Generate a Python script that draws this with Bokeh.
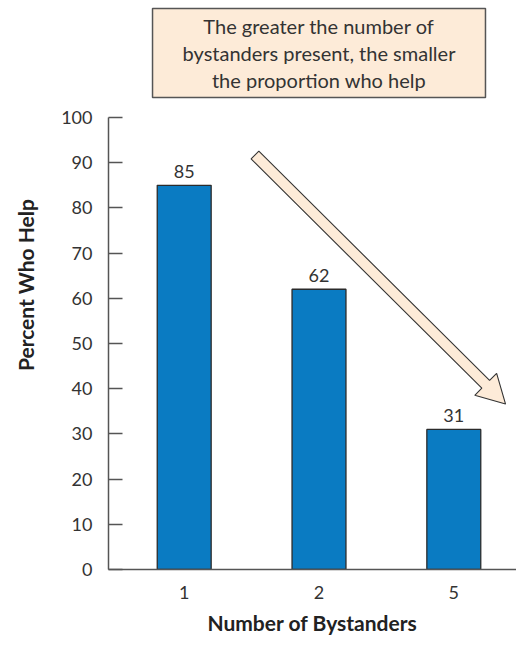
import math
from bokeh.plotting import figure
from bokeh.models import ColumnDataSource, FixedTicker, Range1d
from bokeh.core.properties import value
from bokeh.embed import file_html
from bokeh.resources import INLINE

# ---- data ----
categories = ["1", "2", "5"]
percent_help = [85, 62, 31]
y_ticks = [0, 10, 20, 30, 40, 50, 60, 70, 80, 90, 100]
note_lines = ["The greater the number of",
              "bystanders present, the smaller",
              "the proportion who help"]
x_title = "Number of Bystanders"
y_title = "Percent Who Help"

# ---- layout ----
W, H = 516, 639
BL, BR, BT, BB = 108, 0, 0, 70
FW, FH = W - BL - BR, H - BT - BB
X0 = -0.5616
sx = 134.8                      # px per category step
X1 = X0 + FW / sx
Y0 = 0
sy = 4.52                       # px per percent
Y1 = Y0 + FH / sy

FONT = "Lato"
TXT = "#333333"

p = figure(width=W, height=H, output_backend="svg", toolbar_location=None,
           x_range=Range1d(X0, X1), y_range=Range1d(Y0, Y1),
           min_border_left=BL, min_border_right=BR, min_border_top=BT,
           min_border_bottom=BB)
p.outline_line_color = None
p.xgrid.visible = False
p.ygrid.visible = False
p.background_fill_color = "white"
p.border_fill_color = "white"

xpos = list(range(len(categories)))
src = ColumnDataSource(dict(x=xpos, top=percent_help,
                            lab=[str(v) for v in percent_help]))

# note box (annotation, behind its text)
box_l, box_r, box_b, box_t = -0.235, 2.235, 104.4, 124.1
p.quad(left=[box_l], right=[box_r], bottom=[box_b], top=[box_t],
       fill_color="#fdebd8", line_color="#555555", line_width=1.5)
line_y = [120.3, 114.3, 108.3]
p.text(x=[(box_l + box_r) / 2] * len(note_lines), y=line_y, text=note_lines,
       text_align="center", text_baseline="middle", text_font=value(FONT),
       text_font_size="20px", text_color=TXT)

p.vbar(x="x", top="top", bottom=0, width=0.4, source=src,
       fill_color="#0a7bc2", line_color="#2b2b2b", line_width=1.3)
p.text(x="x", y="top", text="lab", source=src, text_align="center",
       text_baseline="bottom", y_offset=-7, text_font=value(FONT),
       text_font_size="18px", text_color=TXT)

# axes
ax = p.xaxis[0]
ax.ticker = FixedTicker(ticks=xpos)
ax.major_label_overrides = {i: c for i, c in zip(xpos, categories)}
ax.major_tick_line_color = None
ax.minor_tick_line_color = None
ax.axis_line_color = "#555555"
ax.axis_line_width = 1.5
ax.major_label_text_font = FONT
ax.major_label_text_font_size = "18px"
ax.major_label_text_color = TXT
ax.major_label_standoff = 10
ax.axis_label = x_title
ax.axis_label_text_font = FONT
ax.axis_label_text_font_style = "bold"
ax.axis_label_text_font_size = "21px"
ax.axis_label_text_color = "#222222"
ax.axis_label_standoff = 8

ay = p.yaxis[0]
ay.ticker = FixedTicker(ticks=y_ticks)
ay.bounds = (y_ticks[0], y_ticks[-1])
ay.major_tick_in = 14
ay.major_tick_out = 0
ay.major_tick_line_color = "#555555"
ay.major_tick_line_width = 1.5
ay.minor_tick_line_color = None
ay.axis_line_color = "#555555"
ay.axis_line_width = 1.5
ay.major_label_text_font = FONT
ay.major_label_text_font_size = "18px"
ay.major_label_text_color = TXT
ay.major_label_standoff = 16
ay.axis_label = y_title
ay.axis_label_text_font = FONT
ay.axis_label_text_font_style = "bold"
ay.axis_label_text_font_size = "21px"
ay.axis_label_text_color = "#222222"
ay.axis_label_standoff = 20

# block arrow (annotation), built in pixel space then mapped to data
tail = (0.525, 91.7)
tip = (2.384, 36.6)
tx, ty = tail[0] * sx, tail[1] * sy
px, py = tip[0] * sx, tip[1] * sy
L = math.hypot(px - tx, py - ty)
ux, uy = (px - tx) / L, (py - ty) / L
nx, ny = -uy, ux
hw, HW, HL = 5.5, 15.5, 28
bx, by = px - ux * HL, py - uy * HL
pts = [(tx + nx * hw, ty + ny * hw), (bx + nx * hw, by + ny * hw),
       (bx + nx * HW, by + ny * HW), (px, py),
       (bx - nx * HW, by - ny * HW), (bx - nx * hw, by - ny * hw),
       (tx - nx * hw, ty - ny * hw)]
p.patch(x=[a / sx for a, b in pts], y=[b / sy for a, b in pts],
        fill_color="#fdebd8", line_color="#333333", line_width=1.1)

open("out.html", "w").write(file_html(p, INLINE))
